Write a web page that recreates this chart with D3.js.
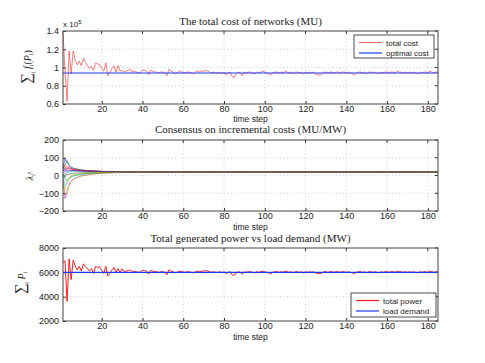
<!DOCTYPE html>
<html>
<head>
<meta charset="utf-8">
<script src="https://d3js.org/d3.v7.min.js"></script>
<style>
  body { margin:0; background:#fff; }
  .tick text { font-family:"Liberation Sans", Arial, sans-serif; }
</style>
</head>
<body>
<div id="chart"></div>
<script>
// ---- data ----
var xTicks = [20, 40, 60, 80, 100, 120, 140, 160, 180];

// total cost (x 10^5 MU), time steps 1..185
var totalCost = [
  1.40, 0.95, 0.63, 1.18, 0.93, 1.18, 1.08, 1.03, 1.07, 1.02,
  1.10, 1.06, 1.02, 0.99, 1.01, 0.97, 1.05, 1.04, 1.03, 0.99,
  0.96, 1.05, 0.91, 0.94, 0.99, 1.02, 0.95, 1.02, 0.96, 0.97,
  0.95, 0.96, 0.97, 0.98, 0.95, 0.96, 0.95, 0.94, 0.95, 0.97,
  0.97, 0.96, 0.92, 0.97, 0.96, 0.95, 0.95, 0.94, 0.95, 0.95,
  0.94, 0.91, 0.98, 0.96, 0.95, 0.93, 0.94, 0.96, 0.95, 0.95,
  0.94, 0.95, 0.95, 0.94, 0.93, 0.95, 0.96, 0.95, 0.96, 0.96,
  0.97, 0.96, 0.95, 0.94, 0.95, 0.94, 0.94, 0.95, 0.93, 0.95,
  0.92, 0.94, 0.95, 0.90, 0.89, 0.93, 0.95, 0.94, 0.91, 0.95,
  0.94, 0.95, 0.95, 0.94, 0.93, 0.95, 0.94, 0.95, 0.96, 0.95,
  0.94, 0.93, 0.92, 0.94, 0.95, 0.95, 0.94, 0.95, 0.94, 0.96,
  0.95, 0.94, 0.95, 0.93, 0.95, 0.95, 0.94, 0.95, 0.93, 0.95,
  0.94, 0.95, 0.94, 0.95, 0.93, 0.92, 0.92, 0.93, 0.95, 0.95,
  0.94, 0.95, 0.95, 0.94, 0.95, 0.95, 0.94, 0.95, 0.95, 0.94,
  0.95, 0.94, 0.93, 0.92, 0.94, 0.95, 0.95, 0.94, 0.95, 0.93,
  0.95, 0.95, 0.94, 0.95, 0.94, 0.93, 0.95, 0.94, 0.95, 0.95,
  0.94, 0.95, 0.95, 0.94, 0.96, 0.95, 0.95, 0.94, 0.95, 0.94,
  0.95, 0.94, 0.95, 0.94, 0.93, 0.95, 0.94, 0.95, 0.95, 0.94,
  0.96, 0.95, 0.94, 0.95, 0.95
];
var optimalCost = 0.94;

// incremental costs of each unit, sampled at these steps
var lambdaSteps = [1, 2, 3, 4, 5, 6, 8, 10, 13, 16, 20, 25, 30, 40, 60, 185];
var lambda1  = [40, 95, 70, 55, 45, 40, 35, 30, 27, 25, 23, 22, 21, 20.5, 20, 20];
var lambda2  = [30, 60, 85, 60, 50, 42, 36, 32, 28, 26, 24, 22, 21, 20.5, 20, 20];
var lambda3  = [60, 45, 40, 38, 35, 33, 30, 28, 26, 25, 23, 22, 21, 20.5, 20, 20];
var lambda4  = [0, -60, -40, -20, -10, -5, 0, 5, 8, 11, 14, 16, 18, 19.5, 20, 20];
var lambda5  = [-20, -130, -90, -50, -30, -20, -10, -2, 4, 9, 13, 16, 18, 19.5, 20, 20];
var lambda6  = [-40, -100, -110, -60, -40, -25, -12, -4, 3, 8, 12, 15, 17, 19.5, 20, 20];
var lambda7  = [20, 10, 5, 8, 10, 12, 14, 15, 16, 17, 18, 19, 19.5, 20, 20, 20];
var lambda8  = [50, 30, 20, 25, 27, 27, 26, 25, 24, 23, 22, 21, 20.5, 20, 20, 20];
var lambda9  = [10, -20, -30, -15, -5, 0, 5, 9, 12, 14, 16, 18, 19, 20, 20, 20];
var lambda10 = [70, 55, 50, 45, 40, 36, 32, 29, 27, 25, 23, 22, 21, 20.5, 20, 20];
var lambda11 = [-10, 0, 15, 20, 22, 22, 22, 21, 21, 21, 20.5, 20, 20, 20, 20, 20];
var lambda12 = [35, 20, 40, 45, 38, 33, 30, 27, 25, 24, 22, 21, 20.5, 20, 20, 20];
var lambda13 = [-60, -80, -30, -15, -5, 2, 7, 10, 13, 15, 17, 18, 19, 20, 20, 20];
var lambda14 = [25, 40, 30, 30, 29, 28, 27, 26, 24, 23, 22, 21, 20.5, 20, 20, 20];
var lambdas = [lambda1, lambda2, lambda3, lambda4, lambda5, lambda6, lambda7,
               lambda8, lambda9, lambda10, lambda11, lambda12, lambda13, lambda14];

// total generated power (MW), time steps 1..185
var totalPower = [
  6800, 6950, 3600, 7100, 5400, 7000, 6500, 6200, 6500, 6100,
  6700, 6500, 6300, 6100, 6300, 5900, 6500, 6400, 6450, 6200,
  5900, 6500, 5700, 5900, 6200, 6400, 6000, 6300, 6000, 6300,
  6050, 6100, 6150, 6200, 6050, 6100, 6050, 6000, 6050, 6150,
  6150, 6100, 5850, 6150, 6100, 6050, 6050, 6000, 6050, 6050,
  6000, 5800, 6200, 6100, 6050, 5950, 6000, 6100, 6050, 6050,
  6000, 6050, 6050, 6000, 5950, 6050, 6100, 6050, 6100, 6100,
  6150, 6100, 6050, 6000, 6050, 6000, 6000, 6050, 5950, 6050,
  5900, 6000, 6050, 5800, 5750, 5950, 6050, 6000, 5850, 6050,
  6000, 6050, 6050, 6000, 5950, 6050, 6000, 6050, 6100, 6050,
  6000, 5950, 5900, 6000, 6050, 6050, 6000, 6050, 6000, 6100,
  6050, 6000, 6050, 5950, 6050, 6050, 6000, 6050, 5950, 6050,
  6000, 6050, 6000, 6050, 5950, 5900, 5900, 5950, 6050, 6050,
  6000, 6050, 6050, 6000, 6050, 6050, 6000, 6050, 6050, 6000,
  6050, 6000, 5950, 5900, 6000, 6050, 6050, 6000, 6050, 5950,
  6050, 6050, 6000, 6050, 6000, 5950, 6050, 6000, 6050, 6050,
  6000, 6050, 6050, 6000, 6100, 6050, 6050, 6000, 6050, 6000,
  6050, 6000, 6050, 6000, 5950, 6050, 6000, 6050, 6050, 6000,
  6100, 6050, 6000, 6050, 6050
];
var loadDemand = 6000;

var costTicks = [0.6, 0.8, 1, 1.2, 1.4];
var lambdaTicks = [-200, -100, 0, 100, 200];
var powerTicks = [2000, 4000, 6000, 8000];

var lineColors = ["#0000ff", "#008000", "#ff0000", "#00bfbf", "#bf00bf", "#bfbf00", "#404040"];

// ---- layout ----
var width = 485, height = 363;
var plotLeft = 63, plotRight = 438;
var serif = '"Liberation Serif", "Times New Roman", serif';
var sans = '"Liberation Sans", Arial, sans-serif';

var svg = d3.select("#chart").append("svg")
  .attr("width", width).attr("height", height)
  .style("background", "#fff");

var x = d3.scaleLinear().domain([1, 185]).range([plotLeft, plotRight]);

function steps(arr) { return arr.map(function(v, i) { return [i + 1, v]; }); }

function panel(top, bottom, yDomain, yTicks, yFmt, title, titleY, xlabY) {
  var y = d3.scaleLinear().domain(yDomain).range([bottom, top]);
  var g = svg.append("g");

  // dotted grid
  g.append("g").selectAll("line").data(xTicks).enter().append("line")
    .attr("x1", function(d) { return x(d); }).attr("x2", function(d) { return x(d); })
    .attr("y1", top).attr("y2", bottom)
    .attr("stroke", "#bbb").attr("stroke-width", 0.7).attr("stroke-dasharray", "1,2.5");
  g.append("g").selectAll("line").data(yTicks.slice(1, -1)).enter().append("line")
    .attr("x1", plotLeft).attr("x2", plotRight)
    .attr("y1", function(d) { return y(d); }).attr("y2", function(d) { return y(d); })
    .attr("stroke", "#bbb").attr("stroke-width", 0.7).attr("stroke-dasharray", "1,2.5");

  // axes with inner ticks
  var ax = g.append("g").attr("transform", "translate(0," + bottom + ")")
    .call(d3.axisBottom(x).tickValues(xTicks).tickSizeInner(-3).tickSizeOuter(0).tickPadding(2));
  var ay = g.append("g").attr("transform", "translate(" + plotLeft + ",0)")
    .call(d3.axisLeft(y).tickValues(yTicks).tickFormat(yFmt).tickSizeInner(-3).tickSizeOuter(0).tickPadding(4));
  [ax, ay].forEach(function(a) {
    a.select(".domain").remove();
    a.selectAll(".tick line").attr("stroke", "#333");
    a.selectAll(".tick text").style("font-size", "9px").attr("fill", "#222");
  });
  // top/right ticks
  g.append("g").selectAll("line").data(xTicks).enter().append("line")
    .attr("x1", function(d) { return x(d); }).attr("x2", function(d) { return x(d); })
    .attr("y1", top).attr("y2", top + 3).attr("stroke", "#333");
  g.append("g").selectAll("line").data(yTicks).enter().append("line")
    .attr("x1", plotRight).attr("x2", plotRight - 3)
    .attr("y1", function(d) { return y(d); }).attr("y2", function(d) { return y(d); })
    .attr("stroke", "#333");

  g.append("text").attr("x", (plotLeft + plotRight) / 2).attr("y", bottom + xlabY)
    .attr("text-anchor", "middle").style("font-family", sans).style("font-size", "8.5px")
    .attr("fill", "#222").text("time step");
  svg.append("text").attr("x", (plotLeft + plotRight) / 2).attr("y", titleY)
    .attr("text-anchor", "middle").style("font-family", serif).style("font-size", "11px")
    .attr("fill", "#222").text(title);

  var plot = svg.append("g");
  return { y: y, plot: plot, top: top, bottom: bottom, frame: function() {
    svg.append("rect").attr("x", plotLeft).attr("y", top)
      .attr("width", plotRight - plotLeft).attr("height", bottom - top)
      .attr("fill", "none").attr("stroke", "#444").attr("stroke-width", 1);
  }};
}

function legend(bx, by, bw, bh, items) {
  var g = svg.append("g");
  g.append("rect").attr("x", bx).attr("y", by).attr("width", bw).attr("height", bh)
    .attr("fill", "#fff").attr("stroke", "#222").attr("stroke-width", 0.8);
  items.forEach(function(it, i) {
    var cy = by + 7.5 + i * 10.5;
    g.append("line").attr("x1", bx + 5).attr("x2", bx + 28).attr("y1", cy).attr("y2", cy)
      .attr("stroke", it.color).attr("stroke-width", it.w);
    g.append("text").attr("x", bx + 32).attr("y", cy + 3).style("font-family", sans)
      .style("font-size", "8px").attr("fill", "#222").text(it.label);
  });
}

// ---- panel 1: total cost ----
var p1 = panel(31, 104, [0.6, 1.4], costTicks, function(d) { return d; },
  "The total cost of networks (MU)", 24.5, 18);
var line1 = d3.line().x(function(d) { return x(d[0]); }).y(function(d) { return p1.y(d[1]); });
p1.plot.append("path").datum(steps(totalCost)).attr("d", line1)
  .attr("fill", "none").attr("stroke", "#ff2020").attr("stroke-width", 0.6);
p1.plot.append("line").attr("x1", x(1)).attr("x2", x(185))
  .attr("y1", p1.y(optimalCost)).attr("y2", p1.y(optimalCost))
  .attr("stroke", "#1a3cff").attr("stroke-width", 1.2);
p1.frame();
var ex = svg.append("text").attr("x", plotLeft).attr("y", 27).style("font-family", sans)
  .style("font-size", "8px").attr("fill", "#222");
ex.append("tspan").text("x 10");
ex.append("tspan").attr("dy", -3).style("font-size", "6px").text("5");
legend(354, 35, 80, 23, [
  { label: "total cost", color: "#ff2020", w: 0.7 },
  { label: "optimal cost", color: "#1a3cff", w: 1.2 }
]);

// ---- panel 2: incremental costs ----
var p2 = panel(140, 211, [-200, 200], lambdaTicks, function(d) { return d < 0 ? "\u2212" + (-d) : d; },
  "Consensus on incremental costs (MU/MW)", 133, 19);
var line2 = d3.line().x(function(d) { return x(d[0]); }).y(function(d) { return p2.y(d[1]); });
lambdas.forEach(function(arr, k) {
  var pts = arr.map(function(v, i) { return [lambdaSteps[i], v]; });
  p2.plot.append("path").datum(pts).attr("d", line2)
    .attr("fill", "none").attr("stroke", lineColors[k % lineColors.length])
    .attr("stroke-width", 0.6).attr("stroke-opacity", 0.85);
});
p2.frame();

// ---- panel 3: power vs demand ----
var p3 = panel(248, 321, [2000, 8000], powerTicks, function(d) { return d; },
  "Total generated power vs load demand (MW)", 242, 19);
var line3 = d3.line().x(function(d) { return x(d[0]); }).y(function(d) { return p3.y(d[1]); });
p3.plot.append("path").datum(steps(totalPower)).attr("d", line3)
  .attr("fill", "none").attr("stroke", "#ff1a1a").attr("stroke-width", 1);
p3.plot.append("line").attr("x1", x(1)).attr("x2", x(185))
  .attr("y1", p3.y(loadDemand)).attr("y2", p3.y(loadDemand))
  .attr("stroke", "#1a3cff").attr("stroke-width", 1.2);
p3.frame();
legend(351, 293, 85, 24, [
  { label: "total power", color: "#ff1a1a", w: 1.2 },
  { label: "load demand", color: "#1a3cff", w: 1.2 }
]);

// ---- y labels (math style) ----
function yLabel(cx, cy, parts) {
  var t = svg.append("text").attr("transform", "translate(" + cx + "," + cy + ") rotate(-90)")
    .attr("text-anchor", "middle").style("font-family", serif).attr("fill", "#222");
  parts.forEach(function(p) {
    var ts = t.append("tspan").text(p.t).style("font-size", p.s + "px");
    if (p.dy) ts.attr("dy", p.dy);
    if (p.it) ts.style("font-style", "italic");
  });
}
yLabel(31, 67, [
  { t: "\u2211", s: 15 }, { t: "i", s: 6, dy: 4, it: true }, { t: " f", s: 10, dy: -4, it: true },
  { t: "i", s: 6, dy: 2, it: true }, { t: "(", s: 10, dy: -2 }, { t: "P", s: 10, it: true },
  { t: "i", s: 6, dy: 2, it: true }, { t: ")", s: 10, dy: -2 }
]);
yLabel(33, 176, [
  { t: "\u03bb", s: 10, it: true }, { t: "i", s: 6, dy: 2, it: true }, { t: "s", s: 6, dy: -4, it: true }
]);
yLabel(25, 283, [
  { t: "\u2211", s: 15 }, { t: "i", s: 6, dy: 4, it: true }, { t: " P", s: 10, dy: -4, it: true },
  { t: "i", s: 6, dy: 2, it: true }
]);
</script>
</body>
</html>
